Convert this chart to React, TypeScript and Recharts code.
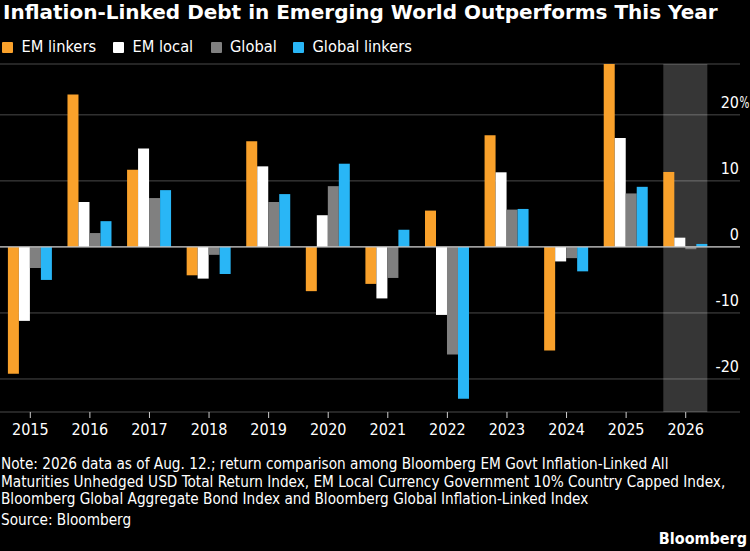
import React from "react";
import {
  BarChart,
  Bar,
  XAxis,
  YAxis,
  CartesianGrid,
  ReferenceLine,
} from "recharts";

const years = ["2015", "2016", "2017", "2018", "2019", "2020", "2021", "2022", "2023", "2024", "2025", "2026"];
const emLinkers = [-19.2, 23.1, 11.7, -4.3, 16.0, -6.7, -5.6, 5.5, 16.9, -15.7, 27.7, 11.35];
const emLocal = [-11.2, 6.8, 14.9, -4.8, 12.2, 4.8, -7.8, -10.3, 11.3, -2.2, 16.5, 1.4];
const globalAgg = [-3.2, 2.1, 7.4, -1.2, 6.8, 9.2, -4.7, -16.3, 5.65, -1.7, 8.1, -0.35];
const globalLinkers = [-5.0, 3.9, 8.6, -4.1, 8.0, 12.6, 2.6, -23.0, 5.75, -3.7, 9.1, 0.45];
const yTicks = [-20, -10, 0, 10, 20];
const yDomain = [-25, 27.7];
const highlightYear = "2026";

const seriesNames = ["EM linkers", "EM local", "Global", "Global linkers"];
const seriesColors = ["#F9A12B", "#FFFFFF", "#808080", "#29B6F6"];
const seriesKeys = ["emLinkers", "emLocal", "globalAgg", "globalLinkers"];
const legendLeft = [2, 113, 210.5, 293];

const noteLines = [
  "Note: 2026 data as of Aug. 12.; return comparison among Bloomberg EM Govt Inflation-Linked All",
  "Maturities Unhedged USD Total Return Index, EM Local Currency Government 10% Country Capped Index,",
  "Bloomberg Global Aggregate Bond Index and Bloomberg Global Inflation-Linked Index",
];

const data = years.map((y, i) => ({
  year: y,
  emLinkers: emLinkers[i],
  emLocal: emLocal[i],
  globalAgg: globalAgg[i],
  globalLinkers: globalLinkers[i],
}));

const FONT = '"DejaVu Sans Condensed", "DejaVu Sans", sans-serif';
const TITLE_FONT = '"DejaVu Sans", sans-serif';

const XTick = (props: any) => {
  const { x, y, payload } = props;
  return (
    <text x={x} y={y + 17} textAnchor="middle" fill="#FFFFFF" fontSize={16} fontFamily={FONT}>
      {payload.value}
    </text>
  );
};

const YTick = (props: any) => {
  const { x, y, payload } = props;
  const v = payload.value;
  return (
    <g>
      <text x={x - 1} y={y - 7} textAnchor="end" fill="#FFFFFF" fontSize={16} fontFamily={FONT}>
        {String(v)}
      </text>
      {v === 20 ? (
        <g transform={`translate(${x - 0.5},${y - 7}) scale(0.72,1)`}>
          <text x={0} y={0} textAnchor="start" fill="#FFFFFF" fontSize={16} fontFamily={FONT}>
            %
          </text>
        </g>
      ) : null}
    </g>
  );
};

const HighlightBg = (props: any) => {
  const { x, y, width, height, index } = props;
  if (data[index] && data[index].year === highlightYear) {
    return (
      <rect x={x} y={y} width={width * seriesKeys.length} height={height} fill="#FFFFFF" fillOpacity={0.21} />
    );
  }
  return <g />;
};

export default function App() {
  return (
    <div
      style={{
        position: "fixed",
        left: 0,
        top: 0,
        width: 750,
        height: 551,
        background: "#000000",
        overflow: "hidden",
        fontFamily: FONT,
        color: "#FFFFFF",
      }}
    >
      <div
        style={{
          position: "absolute",
          left: 3,
          top: 2,
          fontSize: 20,
          lineHeight: "20px",
          fontWeight: "bold",
          fontFamily: TITLE_FONT,
          whiteSpace: "nowrap",
        }}
      >
        Inflation-Linked Debt in Emerging World Outperforms This Year
      </div>
      {seriesNames.map((n, i) => (
        <div
          key={n}
          style={{ position: "absolute", left: legendLeft[i], top: 38, display: "flex", alignItems: "center", whiteSpace: "nowrap" }}
        >
          <div style={{ width: 11, height: 11, background: seriesColors[i], marginRight: 8.5, borderRadius: 1 }} />
          <span style={{ fontSize: 16.3, lineHeight: "18px" }}>{n}</span>
        </div>
      ))}
      <div style={{ position: "absolute", left: 0, top: 0 }}>
        <BarChart
          width={750}
          height={551}
          data={data}
          margin={{ top: 64, right: 0, bottom: 109, left: 0 }}
          barCategoryGap={7.4}
          barGap={0}
        >
          <CartesianGrid horizontal={true} vertical={false} stroke="#4a4a4a" strokeWidth={1} />
          <XAxis
            dataKey="year"
            axisLine={false}
            tickLine={{ stroke: "#cccccc" }}
            tickSize={6}
            tickMargin={0}
            height={30}
            padding={{ left: 0.5, right: 24.5 }}
            tick={<XTick />}
            interval={0}
          />
          <YAxis
            orientation="right"
            width={10}
            domain={yDomain}
            ticks={yTicks}
            axisLine={false}
            tickLine={false}
            tickSize={0}
            tickMargin={0}
            tick={<YTick />}
            allowDataOverflow={true}
          />
          <Bar dataKey={seriesKeys[0]} fill={seriesColors[0]} isAnimationActive={false} background={HighlightBg} />
          <Bar dataKey={seriesKeys[1]} fill={seriesColors[1]} isAnimationActive={false} />
          <Bar dataKey={seriesKeys[2]} fill={seriesColors[2]} isAnimationActive={false} />
          <Bar dataKey={seriesKeys[3]} fill={seriesColors[3]} isAnimationActive={false} />
          <ReferenceLine y={0} stroke="#c4c4c4" strokeWidth={1.2} />
        </BarChart>
      </div>
      <div style={{ position: "absolute", left: 1, top: 456, fontSize: 15.2, lineHeight: "17.5px", whiteSpace: "nowrap" }}>
        {noteLines.map((l) => (
          <div key={l}>{l}</div>
        ))}
        <div style={{ marginTop: 3 }}>Source: Bloomberg</div>
      </div>
      <div
        style={{
          position: "absolute",
          right: 3,
          top: 530,
          fontSize: 16,
          lineHeight: "18px",
          fontWeight: "bold",
        }}
      >
        Bloomberg
      </div>
    </div>
  );
}
